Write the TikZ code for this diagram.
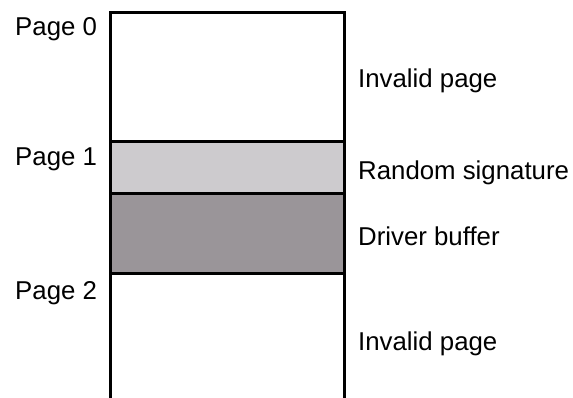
\documentclass[tikz,border=0pt]{standalone}
\usepackage{fontspec}
\setmainfont{Liberation Sans}
\definecolor{lightg}{HTML}{CDCBCE}
\definecolor{darkg}{HTML}{9A9599}
\begin{document}
\begin{tikzpicture}[x=1pt,y=-1pt,
  lab/.style={anchor=base west,inner sep=0pt,font=\fontsize{25.8}{30}\selectfont},
  frame/.style={line width=3pt,black}]
\useasboundingbox (0,0) rectangle (573,398);
\fill[lightg] (110,142) rectangle (344,194);
\fill[darkg] (110,194) rectangle (344,273);
\draw[frame] (110,398) -- (110,13) -- (344,13) -- (344,398);
\draw[frame] (110,142) -- (344,142);
\draw[frame] (110,194) -- (344,194);
\draw[frame] (110,273) -- (344,273);
\node[lab] (p0) at (15,36) {Page 0};
\node[lab] (p1) at (15,166) {Page 1};
\node[lab] (p2) at (15,299) {Page 2};
\node[lab] (inv1) at (358,88) {Invalid page};
\node[lab] (rs) at (358,180) {Random signature};
\node[lab] (db) at (358,245) {Driver buffer};
\node[lab] (inv2) at (358,350) {Invalid page};
\end{tikzpicture}
\end{document}
